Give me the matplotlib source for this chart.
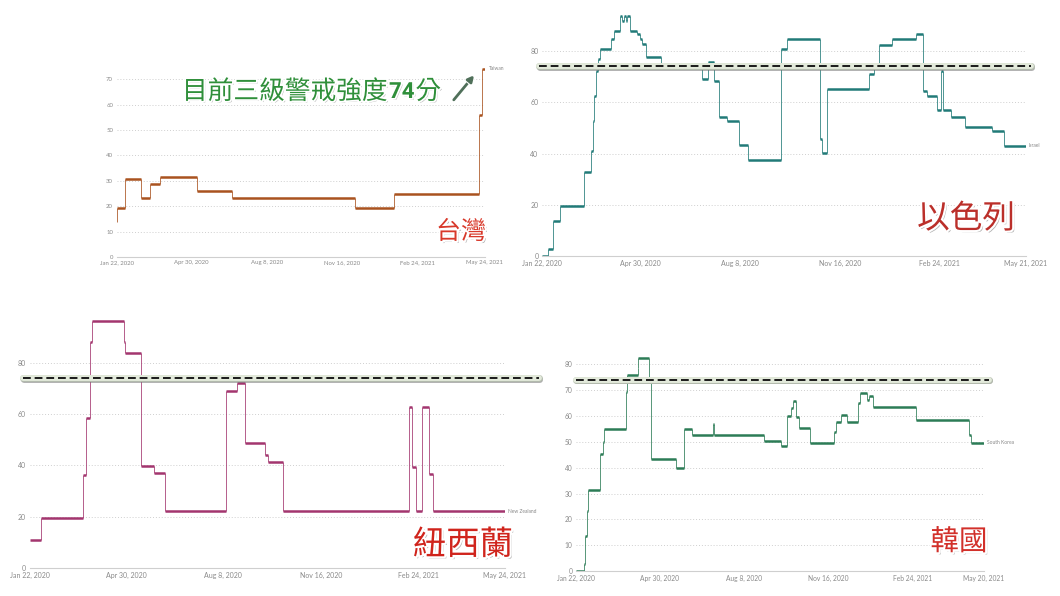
import matplotlib
matplotlib.use('Agg')
import matplotlib.pyplot as plt
import matplotlib.patheffects as pe

plt.rcParams['font.family'] = ['Noto Sans CJK TC', 'DejaVu Sans']

# 日期刻度 (距 2020-01-22 的天數)
tick_days = [0, 99, 199, 299, 399]
tick_names = ['Jan 22, 2020', 'Apr 30, 2020', 'Aug 8, 2020', 'Nov 16, 2020', 'Feb 24, 2021']

# 台灣
tw_days = [0, 1, 11, 33, 44, 58, 107, 153, 316, 367, 480, 484]
tw_vals = [13.89, 19.44, 30.56, 23.15, 28.7, 31.48, 25.93, 23.15, 19.44, 25.0, 56.02, 74.07]
tw_end = 488

# 以色列
il_days = [0, 6, 11, 18, 42, 49, 51, 52, 54, 56, 58, 69, 72, 78, 80, 82, 84, 85, 88,
           95, 98, 100, 104, 119, 160, 166, 173, 178, 186, 198, 207, 240, 246, 279, 281,
           286, 328, 333, 338, 351, 375, 382, 386, 396, 400, 402, 410, 424, 451, 463]
il_vals = [0, 2.78, 13.89, 19.44, 32.7, 41.2, 52.6, 62.6, 72.3, 76.9, 80.8, 84.7, 87.7,
           93.8, 91.8, 93.8, 91.8, 93.8, 87.7, 86.6, 84.7, 82.7, 77.5, 74.9, 69.1, 75.6,
           68.4, 54.2, 52.6, 43.5, 37.7, 80.8, 84.7, 45.7, 40.3, 65.2, 71.0, 73.6, 82.3,
           84.7, 86.6, 64.6, 62.6, 57.0, 72.3, 57.0, 54.2, 50.5, 49.0, 43.1]
il_end = 485

# 紐西蘭
nz_days = [0, 12, 55, 58, 62, 64, 97, 98, 114, 128, 139, 202, 213, 221, 242, 245, 260,
           390, 393, 397, 403, 410, 414]
nz_vals = [11.11, 19.44, 36.11, 58.33, 87.96, 96.3, 87.96, 83.8, 39.8, 37.0, 22.22, 69.0,
           72.0, 48.7, 44.1, 41.3, 22.22, 62.9, 39.6, 22.22, 62.9, 36.8, 22.22]
nz_end = 488

# 韓國
kr_days = [0, 9, 11, 13, 14, 29, 32, 33, 59, 60, 73, 74, 87, 89, 119, 128, 138, 162, 164,
           223, 243, 250, 255, 257, 261, 264, 277, 306, 308, 314, 321, 335, 337, 345, 347,
           352, 403, 466, 469]
kr_vals = [0, 2.78, 13.7, 23.2, 31.48, 45.37, 49.8, 55.09, 69.4, 76.0, 78.5, 82.41, 73.3,
           43.5, 39.8, 55.0, 52.8, 56.8, 52.8, 50.5, 48.4, 60.0, 63.0, 65.8, 59.7, 55.2,
           49.7, 53.9, 57.8, 60.4, 57.8, 64.9, 69.0, 66.2, 67.7, 63.6, 58.5, 52.6, 49.7]
kr_end = 484

alert_level = 74

W, H = 1060, 596
fig = plt.figure(figsize=(W / 100, H / 100), dpi=100)


def fpos(x, y):
    return x / W, 1 - y / H


def make_ax(x0, ppd, xmax, y0, ppu, ymax, yticks, last_tick, fs):
    ax = fig.add_axes([x0 / W, 1 - y0 / H, xmax * ppd / W, ymax * ppu / H])
    ax.set_xlim(0, xmax)
    ax.set_ylim(0, ymax)
    for s in ['top', 'right', 'left']:
        ax.spines[s].set_visible(False)
    ax.spines['bottom'].set_color('#cfcfcf')
    ax.spines['bottom'].set_linewidth(0.8)
    ax.patch.set_alpha(0)
    ax.set_yticks(yticks)
    ax.set_xticks(tick_days + [xmax])
    ax.set_xticklabels(tick_names + [last_tick])
    ax.tick_params(length=0, labelsize=fs, colors='#8a8a8a', pad=2.5)
    for lab in ax.get_xticklabels() + ax.get_yticklabels():
        lab.set_fontfamily('Lato')
    ax.yaxis.grid(True, ls=(0, (1, 2)), color='#cfcfcf', lw=0.7)
    ax.set_axisbelow(True)
    return ax


def draw_steps(ax, days, vals, end, color):
    ends = days[1:] + [end]
    ax.hlines(vals, days, ends, colors=color, lw=1.8)
    ax.vlines(days[1:], vals[:-1], vals[1:], colors=color, lw=0.7, alpha=0.8)


def alert_line(ax, x_from, x_to):
    tr = ax.get_yaxis_transform()
    ax.plot([x_from, x_to], [alert_level, alert_level], transform=tr, clip_on=False,
            color='#e3eadb', lw=4.2, solid_capstyle='round', zorder=5,
            path_effects=[pe.SimpleLineShadow(offset=(0.8, -1), shadow_color='#777777', alpha=0.6),
                          pe.Stroke(linewidth=5.0, foreground='#b3bbad'), pe.Normal()])
    ax.plot([x_from, x_to], [alert_level, alert_level], transform=tr, clip_on=False,
            color='#1a1a1a', lw=1.4, ls=(0, (4, 2)), zorder=6)


def series_label(ax, x, y, txt):
    ax.text(x, y, txt, fontsize=3.5, color='#888888', va='center', ha='left',
            fontfamily='Lato', clip_on=False)


def title_text(x, y, txt, size, color):
    fig.text(*fpos(x, y), txt, fontsize=size, color=color, ha='center', va='center',
             path_effects=[pe.SimplePatchShadow(offset=(1.5, -1.5), shadow_rgbFace='#555555', alpha=0.45),
                           pe.withStroke(linewidth=3, foreground='white')])


# 台灣
ax1 = make_ax(116.5, 0.755, 488, 257, 2.54, 76, [0, 10, 20, 30, 40, 50, 60, 70], 'May 24, 2021', 4.3)
draw_steps(ax1, tw_days, tw_vals, tw_end, '#a9521f')
series_label(ax1, tw_end + 5, tw_vals[-1], 'Taiwan')

# 以色列
ax2 = make_ax(542, 0.997, 485, 256.3, 2.566, 97, [0, 20, 40, 60, 80], 'May 21, 2021', 5)
draw_steps(ax2, il_days, il_vals, il_end, '#217a78')
alert_line(ax2, -0.006, 1.011)
series_label(ax2, il_end + 3, il_vals[-1], 'Israel')

# 紐西蘭
ax3 = make_ax(29.5, 0.974, 488, 568.3, 2.57, 98, [0, 20, 40, 60, 80], 'May 24, 2021', 5)
draw_steps(ax3, nz_days, nz_vals, nz_end, '#a3356e')
alert_line(ax3, -0.0145, 1.072)
series_label(ax3, nz_end + 3, nz_vals[-1], 'New Zealand')

# 韓國
ax4 = make_ax(576, 0.843, 484, 571, 2.583, 86, [0, 10, 20, 30, 40, 50, 60, 70, 80], 'May 20, 2021', 4.8)
draw_steps(ax4, kr_days, kr_vals, kr_end, '#2c7c56')
alert_line(ax4, 0.0, 1.013)
series_label(ax4, kr_end + 3, kr_vals[-1], 'South Korea')

# 國家名稱
title_text(461, 232, '台灣', 18, '#d8392b')
title_text(966, 219, '以色列', 23.5, '#bb2f2a')
title_text(463, 545, '紐西蘭', 24, '#d0241c')
title_text(959, 542, '韓國', 20.5, '#d2302a')

# 標註: 文字依序排列, 以實際寬度接續
note_fx = [pe.SimplePatchShadow(offset=(1.2, -1.2), shadow_rgbFace='#555555', alpha=0.4),
           pe.withStroke(linewidth=2.5, foreground='white')]
renderer = fig.canvas.get_renderer()
pieces = [('目前三級警戒強度', dict(fontsize=18.5)),
          ('74', dict(fontsize=16, fontweight='bold', fontfamily=['Roboto', 'DejaVu Sans'])),
          ('分', dict(fontsize=18.5))]
x_cur = 182
for txt, kw in pieces:
    t = fig.text(*fpos(x_cur, 92), txt, color='#2f8f3a', ha='left', va='center',
                 path_effects=note_fx, **kw)
    bb = t.get_window_extent(renderer)
    x_cur += bb.width + 1

fig.add_artist(matplotlib.patches.FancyArrowPatch(
    fpos(452, 102), fpos(476, 73), transform=fig.transFigure,
    arrowstyle='-|>', mutation_scale=9, color='#50705a', lw=2,
    path_effects=[pe.withStroke(linewidth=3.5, foreground='white')]))

fig.savefig('out.png', dpi=100)
